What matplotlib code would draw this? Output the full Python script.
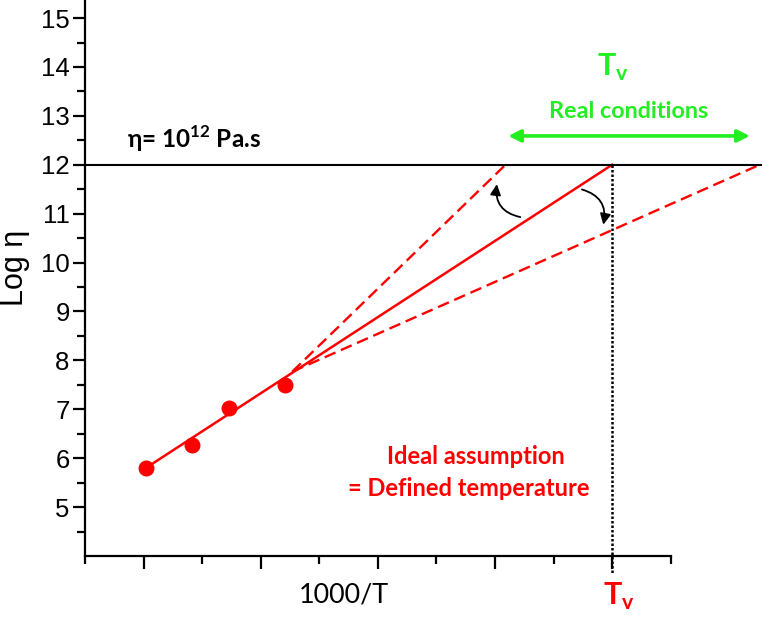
import numpy as np
import matplotlib
matplotlib.use("Agg")
import matplotlib.pyplot as plt

# measured points (arbitrary 1000/T units, log viscosity)
x_pts = [1.02, 1.41, 1.73, 2.21]
y_pts = [5.80, 6.27, 7.02, 7.50]

# fitted line and the two extrapolation limits
fit_x = [1.02, 5.0]
fit_y = [5.80, 12.0]
pivot = (2.27, 7.77)
upper_end = (4.09, 12.0)
lower_end = (6.26, 12.0)
tv_x = 5.0
log_eta_glass = 12.0
real_range = (4.09, 6.20)

RED = "#ff0000"
GREEN = "#22ee22"

plt.rcParams['font.family'] = ['Liberation Sans', 'DejaVu Sans']

fig = plt.figure(figsize=(7.62, 6.19), dpi=100)
ax = fig.add_axes([0.1115, 0.1018, 0.8885, 0.8982])
ax.set_xlim(0.5, 6.28)
ax.set_ylim(4.0, 15.37)

dash = (0, (5, 2.5))
ax.plot(fit_x, fit_y, color=RED, lw=1.8)
ax.plot([pivot[0], upper_end[0]], [pivot[1], upper_end[1]], color=RED, lw=1.7, ls=dash)
ax.plot([pivot[0], lower_end[0]], [pivot[1], lower_end[1]], color=RED, lw=1.7, ls=dash, clip_on=False)
ax.scatter(x_pts, y_pts, s=110, color=RED, zorder=5)

ax.axhline(log_eta_glass, color='black', lw=1.5)
ax.plot([tv_x, tv_x], [log_eta_glass, 3.65], color='black', lw=1.8, ls=(0, (1, 0.8)), clip_on=False)

# rotation arrows
ax.annotate('', xy=(4.02, 11.66), xytext=(4.24, 10.92),
            arrowprops=dict(arrowstyle='-|>', color='black', lw=1.3,
                            connectionstyle='arc3,rad=-0.5', mutation_scale=16))
ax.annotate('', xy=(4.92, 10.72), xytext=(4.72, 11.51),
            arrowprops=dict(arrowstyle='-|>', color='black', lw=1.3,
                            connectionstyle='arc3,rad=-0.5', mutation_scale=16))

# real conditions range
ax.annotate('', xy=(real_range[0], 12.59), xytext=(real_range[1], 12.59),
            arrowprops=dict(arrowstyle='<|-|>', color=GREEN, lw=2.6, mutation_scale=18))

ax.text(5.01, 13.99, r'T$_\mathregular{v}$', color=GREEN, fontsize=22, fontweight='bold',
        family='Lato', ha='center', va='center')
ax.text(5.14, 13.09, 'Real conditions', color=GREEN, fontsize=16.8, fontweight='bold',
        family='Lato', ha='center', va='center')
ax.text(0.86, 12.53, r'η= 10$^\mathregular{12}$ Pa.s', color='black', fontsize=17.5, fontweight='bold',
        family='Lato', ha='left', va='center')
ax.text(3.84, 6.03, 'Ideal assumption', color=RED, fontsize=17, fontweight='bold',
        family='Lato', ha='center', va='center')
ax.text(3.78, 5.38, '= Defined temperature', color=RED, fontsize=17, fontweight='bold',
        family='Lato', ha='center', va='center')

ax.spines['top'].set_visible(False)
ax.spines['right'].set_visible(False)
for s in ('left', 'bottom'):
    ax.spines[s].set_linewidth(1.6)
ax.spines['bottom'].set_bounds(0.5, 5.5)

ax.set_yticks(np.arange(5, 16, 1))
ax.set_yticks(np.arange(4.5, 15.5, 1), minor=True)
ax.set_xticks(np.arange(1, 6, 1))
ax.set_xticks(np.arange(0.5, 6.0, 1), minor=True)
ax.set_xticklabels([])
ax.tick_params(which='major', length=9, width=1.6, direction='out', labelsize=18.5, pad=2)
ax.tick_params(which='minor', length=5.5, width=1.6, direction='out')

fig.text(15 / 762, 1 - 268 / 619, 'Log η', fontsize=22, rotation=90, ha='center', va='center')
fig.text(344 / 762, 1 - 595 / 619, '1000/T', fontsize=19.4, family='Lato', ha='center', va='center')
fig.text(619 / 762, 1 - 596 / 619, r'T$_\mathregular{v}$', color=RED, fontsize=22, fontweight='bold',
         family='Lato', ha='center', va='center')

fig.savefig('out.png', dpi=100)
